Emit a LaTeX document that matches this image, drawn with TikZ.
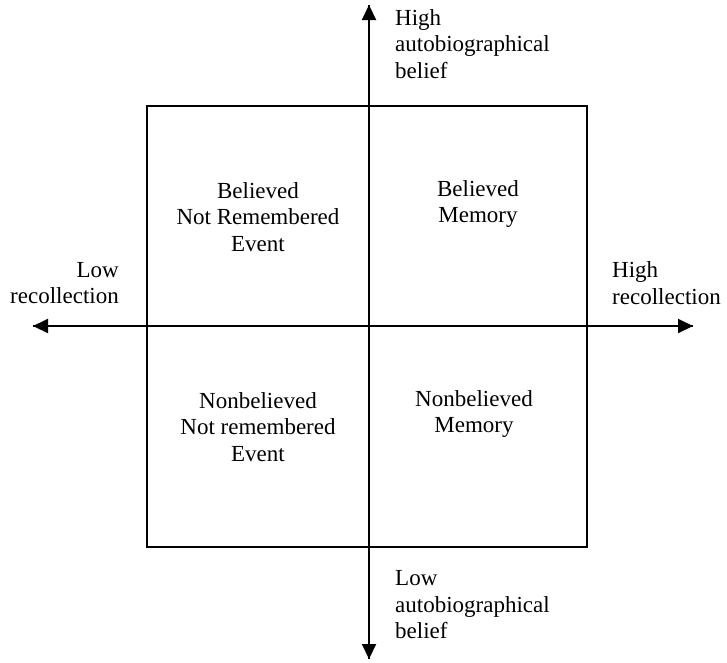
\documentclass[tikz,border=0pt]{standalone}
\usepackage{fontspec}
\setmainfont{Liberation Serif}
\usetikzlibrary{arrows.meta}

\begin{document}
\begin{tikzpicture}[x=1pt,y=-1pt,
    every node/.style={font=\fontsize{23}{26.5}\selectfont, inner sep=0pt},
    axis/.style={line width=2pt, -{Triangle[length=15pt,width=14pt]}}]
  \useasboundingbox (0,0) rectangle (727,662);
  % the square
  \draw[line width=1.5pt] (147,106) rectangle (587,547);
  % axes
  \coordinate (top) at (369,5);
  \coordinate (bot) at (369,659);
  \coordinate (left) at (33,326);
  \coordinate (right) at (693,326);
  \draw[axis] (bot) -- (top);
  \draw[axis] (top) -- (bot);
  \draw[axis] (right) -- (left);
  \draw[axis] (left) -- (right);
  % axis labels
  \node[anchor=west, align=left] (hb) at (395,44) {High\\autobiographical\\belief};
  \node[anchor=west, align=left] (lb) at (395,605) {Low\\autobiographical\\belief};
  \node[anchor=east, align=right] (lr) at (119,283) {Low\\recollection};
  \node[anchor=west, align=left] (hr) at (612,283) {High\\recollection};
  % quadrants
  \node[align=center] (bn) at (258,217) {Believed\\Not Remembered\\Event};
  \node[align=center] (bm) at (478,204) {Believed\\Memory};
  \node[align=center] (nn) at (258,427) {Nonbelieved\\Not remembered\\Event};
  \node[align=center] (nm) at (474,414) {Nonbelieved\\Memory};
\end{tikzpicture}
\end{document}
